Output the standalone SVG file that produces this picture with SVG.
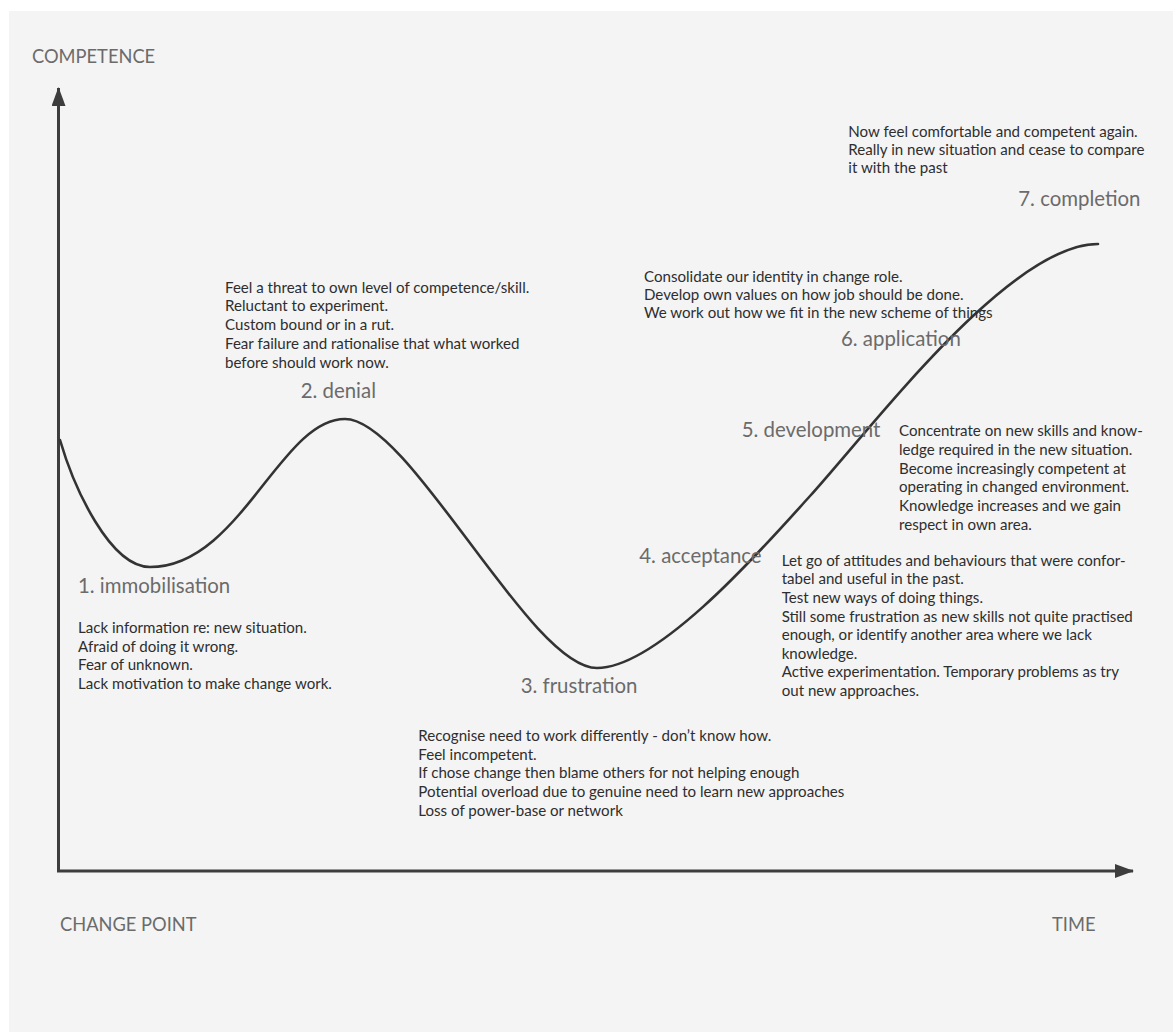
<svg xmlns="http://www.w3.org/2000/svg" width="1173" height="1032" viewBox="0 0 1173 1032">
  <defs>
    <style>
      .axis { fill: none; stroke: #3d3d3d; stroke-width: 3; }
      .curve { fill: none; stroke: #333333; stroke-width: 2.6; stroke-linecap: round; }
      .axis-label { font-family: Lato, "Open Sans", "Liberation Sans", sans-serif; font-size: 18.3px; fill: #6b6b6b; }
      .stage { font-family: Lato, "Open Sans", "Liberation Sans", sans-serif; font-size: 20.4px; fill: #6b6b6b; }
      .note { font-family: Lato, "Open Sans", "Liberation Sans", sans-serif; font-size: 15.1px; fill: #2e2e2e; }
    </style>
    <marker id="arrow" viewBox="0 0 19 14" refX="18" refY="7" markerWidth="19" markerHeight="14" markerUnits="userSpaceOnUse" orient="auto">
      <path d="M0,0 L19,7 L0,14 Z" fill="#3d3d3d"/>
    </marker>
  </defs>

  <!-- canvas -->
  <rect x="0" y="0" width="1173" height="1032" fill="#ffffff"/>
  <rect x="9" y="11" width="1164" height="1021" fill="#f4f4f4"/>

  <!-- axes -->
  <g id="axes">
    <path class="axis" d="M58.5,871 L58.5,88" marker-end="url(#arrow)"/>
    <path class="axis" d="M57,871 L1133,871" marker-end="url(#arrow)"/>
    <text class="axis-label" x="32" y="63">COMPETENCE</text>
    <text class="axis-label" x="60" y="931">CHANGE POINT</text>
    <text class="axis-label" x="1052" y="931">TIME</text>
  </g>

  <!-- change curve -->
  <g id="connectors">
    <path class="curve" d="M60,440 C74,488 110,567 150,567 C240,567 280,419 345,419 C410,419 530,668 597,668 C660,668 770,540 810,496 C875,424 1010,244 1098,244"/>
  </g>

  <!-- stages -->
  <g id="stage-1">
    <text class="stage" x="78" y="593">1. immobilisation</text>
    <text class="note" x="78" y="633">Lack information re: new situation.</text>
    <text class="note" x="78" y="651.5">Afraid of doing it wrong.</text>
    <text class="note" x="78" y="670">Fear of unknown.</text>
    <text class="note" x="78" y="688.5">Lack motivation to make change work.</text>
  </g>

  <g id="stage-2">
    <text class="stage" x="300.7" y="398">2. denial</text>
    <text class="note" x="225" y="292.7">Feel a threat to own level of competence/skill.</text>
    <text class="note" x="225" y="311.4">Reluctant to experiment.</text>
    <text class="note" x="225" y="330.1">Custom bound or in a rut.</text>
    <text class="note" x="225" y="348.8">Fear failure and rationalise that what worked</text>
    <text class="note" x="225" y="367.5">before should work now.</text>
  </g>

  <g id="stage-3">
    <text class="stage" x="520.7" y="692.7">3. frustration</text>
    <text class="note" x="418.3" y="741">Recognise need to work differently - don’t know how.</text>
    <text class="note" x="418.3" y="759.7">Feel incompetent.</text>
    <text class="note" x="418.3" y="778.4">If chose change then blame others for not helping enough</text>
    <text class="note" x="418.3" y="797.1">Potential overload due to genuine need to learn new approaches</text>
    <text class="note" x="418.3" y="815.8">Loss of power-base or network</text>
  </g>

  <g id="stage-4">
    <text class="stage" x="639.3" y="563.3">4. acceptance</text>
    <text class="note" x="781.7" y="565.7">Let go of attitudes and behaviours that were confor-</text>
    <text class="note" x="781.7" y="584.3">tabel and useful in the past.</text>
    <text class="note" x="781.7" y="602.9">Test new ways of doing things.</text>
    <text class="note" x="781.7" y="621.5">Still some frustration as new skills not quite practised</text>
    <text class="note" x="781.7" y="640.1">enough, or identify another area where we lack</text>
    <text class="note" x="781.7" y="658.7">knowledge.</text>
    <text class="note" x="781.7" y="677.3">Active experimentation. Temporary problems as try</text>
    <text class="note" x="781.7" y="695.9">out new approaches.</text>
  </g>

  <g id="stage-5">
    <text class="stage" x="741.7" y="437.3">5. development</text>
    <text class="note" x="899" y="436">Concentrate on new skills and know-</text>
    <text class="note" x="899" y="454.8">ledge required in the new situation.</text>
    <text class="note" x="899" y="473.6">Become increasingly competent at</text>
    <text class="note" x="899" y="492.4">operating in changed environment.</text>
    <text class="note" x="899" y="511.2">Knowledge increases and we gain</text>
    <text class="note" x="899" y="530">respect in own area.</text>
  </g>

  <g id="stage-6">
    <text class="stage" x="841" y="346">6. application</text>
    <text class="note" x="644" y="282.3">Consolidate our identity in change role.</text>
    <text class="note" x="644" y="300.3">Develop own values on how job should be done.</text>
    <text class="note" x="644" y="318.3">We work out how we fit in the new scheme of things</text>
  </g>

  <g id="stage-7">
    <text class="stage" x="1018.3" y="206">7. completion</text>
    <text class="note" x="848.3" y="136.7">Now feel comfortable and competent again.</text>
    <text class="note" x="848.3" y="155">Really in new situation and cease to compare</text>
    <text class="note" x="848.3" y="173.3">it with the past</text>
  </g>
</svg>
